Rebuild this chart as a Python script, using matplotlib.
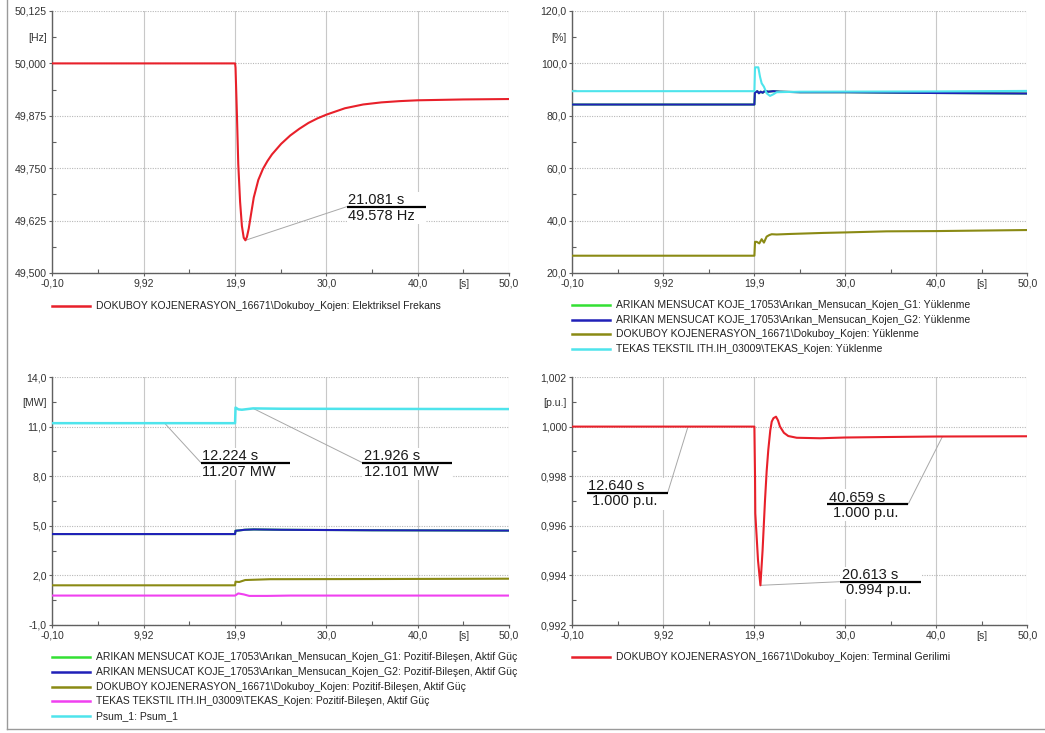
import matplotlib
matplotlib.use('Agg')
import matplotlib.pyplot as plt
from matplotlib.lines import Line2D
from matplotlib.patches import Rectangle
from matplotlib.ticker import FixedLocator, FixedFormatter

plt.rcParams['font.family'] = ['Liberation Sans', 'DejaVu Sans']

W, H = 1045, 733

# ---------------- data ----------------
x_ticks = [-0.1, 9.92, 19.94, 29.96, 39.98, 50.0]
x_ticklabels = ['-0,10', '9,92', '19,9', '30,0', '40,0', '50,0']
x_unit = '[s]'

# Electrical frequency [Hz]
freq_t = [-0.1, 19.95, 20.0, 20.15, 20.3, 20.5, 20.7, 20.9, 21.081, 21.25, 21.45, 21.7,
          22.0, 22.5, 23.0, 23.5, 24.0, 25.0, 26.0, 27.0, 28.0, 29.0, 30.0, 32.0, 34.0,
          36.0, 38.0, 40.0, 45.0, 50.0]
freq_v = [50.0, 50.0, 49.99, 49.88, 49.76, 49.67, 49.612, 49.584, 49.578, 49.586, 49.606, 49.64,
          49.68, 49.722, 49.748, 49.767, 49.783, 49.808, 49.828, 49.844, 49.858, 49.869, 49.878,
          49.893, 49.902, 49.907, 49.910, 49.912, 49.914, 49.915]
freq_yticks = [49.5, 49.625, 49.75, 49.875, 50.0, 50.125]
freq_ylabels = ['49,500', '49,625', '49,750', '49,875', '50,000', '50,125']
freq_unit = '[Hz]'

# Loading [%]
load_g2_t = [-0.1, 19.95, 20.0, 20.27, 20.45, 20.64, 20.86, 21.11, 21.48, 22.03, 22.76,
             25.0, 30.0, 40.0, 50.0]
load_g2_v = [84.3, 84.3, 88.8, 89.4, 88.6, 89.2, 88.8, 89.5, 89.2, 89.4, 89.2,
             89.0, 89.0, 88.7, 88.5]
load_g1_t = load_g2_t
load_g1_v = load_g2_v
load_dok_t = [-0.1, 19.95, 20.02, 20.2, 20.49, 20.75, 21.0, 21.3, 21.6, 21.86, 22.4,
              23.87, 27.54, 30.1, 34.5, 40.0, 50.0]
load_dok_v = [26.6, 26.6, 31.9, 31.9, 31.3, 32.9, 31.6, 33.9, 34.5, 34.8, 34.7,
              34.9, 35.3, 35.5, 35.9, 36.0, 36.4]
load_tek_t = [-0.1, 19.95, 20.02, 20.38, 20.57, 20.75, 21.0, 21.3, 21.67, 22.03, 22.4,
              25.0, 40.0, 50.0]
load_tek_v = [89.4, 89.4, 98.5, 98.5, 94.9, 92.4, 91.1, 88.6, 87.6, 88.2, 89.0,
              89.2, 89.3, 89.5]
load_yticks = [20.0, 40.0, 60.0, 80.0, 100.0, 120.0]
load_ylabels = ['20,0', '40,0', '60,0', '80,0', '100,0', '120,0']
load_unit = '[%]'

# Active power [MW]
pow_g2_t = [-0.1, 19.95, 20.0, 20.4, 21.0, 22.0, 25.0, 35.0, 50.0]
pow_g2_v = [4.50, 4.50, 4.70, 4.72, 4.76, 4.78, 4.76, 4.73, 4.71]
pow_g1_t = pow_g2_t
pow_g1_v = pow_g2_v
pow_dok_t = [-0.1, 19.95, 20.0, 20.4, 21.06, 23.8, 35.0, 50.0]
pow_dok_v = [1.40, 1.40, 1.62, 1.60, 1.72, 1.77, 1.78, 1.80]
pow_tek_t = [-0.1, 19.95, 20.3, 20.9, 21.5, 23.5, 26.0, 50.0]
pow_tek_v = [0.78, 0.78, 0.91, 0.85, 0.76, 0.76, 0.78, 0.78]
pow_sum_t = [-0.1, 19.95, 20.0, 20.32, 20.7, 21.926, 25.0, 35.0, 50.0]
pow_sum_v = [11.207, 11.207, 12.15, 12.04, 12.02, 12.101, 12.08, 12.07, 12.06]
pow_yticks = [-1.0, 2.0, 5.0, 8.0, 11.0, 14.0]
pow_ylabels = ['-1,0', '2,0', '5,0', '8,0', '11,0', '14,0']
pow_unit = '[MW]'

# Terminal voltage [p.u.]
volt_t = [-0.1, 19.95, 20.02, 20.05, 20.35, 20.613, 20.85, 21.12, 21.3, 21.48, 21.7, 21.86,
          22.05, 22.33, 22.55, 22.77, 23.2, 23.68, 24.61, 27.17, 29.92, 34.5, 40.0, 50.0]
volt_v = [1.0, 1.0, 0.9980, 0.9965, 0.99460, 0.99360, 0.99500, 0.99704, 0.99820, 0.99906,
          0.99985, 1.00020, 1.00034, 1.00040, 1.00025, 1.0000, 0.99975, 0.99962, 0.99955,
          0.99953, 0.99956, 0.99958, 0.99960, 0.99961]
volt_yticks = [0.992, 0.994, 0.996, 0.998, 1.000, 1.002]
volt_ylabels = ['0,992', '0,994', '0,996', '0,998', '1,000', '1,002']
volt_unit = '[p.u.]'

# callouts (time, value, line1, line2)
freq_callouts = [(21.081, 49.578, '21.081 s', '49.578 Hz')]
pow_callouts = [(12.224, 11.207, '12.224 s', '11.207 MW'),
                (21.926, 12.101, '21.926 s', '12.101 MW')]
volt_callouts = [(12.640, 1.000, '12.640 s', '1.000 p.u.'),
                 (40.659, 0.99960, '40.659 s', '1.000 p.u.'),
                 (20.613, 0.99360, '20.613 s', '0.994 p.u.')]

# legends
freq_legend = [r'DOKUBOY KOJENERASYON_16671\Dokuboy_Kojen: Elektriksel Frekans']
load_legend = [r'ARIKAN MENSUCAT KOJE_17053\Arıkan_Mensucan_Kojen_G1: Yüklenme',
               r'ARIKAN MENSUCAT KOJE_17053\Arıkan_Mensucan_Kojen_G2: Yüklenme',
               r'DOKUBOY KOJENERASYON_16671\Dokuboy_Kojen: Yüklenme',
               r'TEKAS TEKSTIL ITH.IH_03009\TEKAS_Kojen: Yüklenme']
pow_legend = [r'ARIKAN MENSUCAT KOJE_17053\Arıkan_Mensucan_Kojen_G1: Pozitif-Bileşen, Aktif Güç',
              r'ARIKAN MENSUCAT KOJE_17053\Arıkan_Mensucan_Kojen_G2: Pozitif-Bileşen, Aktif Güç',
              r'DOKUBOY KOJENERASYON_16671\Dokuboy_Kojen: Pozitif-Bileşen, Aktif Güç',
              r'TEKAS TEKSTIL ITH.IH_03009\TEKAS_Kojen: Pozitif-Bileşen, Aktif Güç',
              r'Psum_1: Psum_1']
volt_legend = [r'DOKUBOY KOJENERASYON_16671\Dokuboy_Kojen: Terminal Gerilimi']

RED = '#e8202a'
GREEN = '#33e033'
BLUE = '#2020b8'
OLIVE = '#8a8a14'
MAGENTA = '#f040f0'
CYAN = '#4ee4ec'

# ---------------- figure ----------------
fig = plt.figure(figsize=(W / 100, H / 100), dpi=100)
fig.patch.set_facecolor('white')


def px_rect(l, t, r, b):
    return [l / W, 1 - b / H, (r - l) / W, (b - t) / H]


ax_f = fig.add_axes(px_rect(52.3, 11, 509, 273))
ax_l = fig.add_axes(px_rect(572.3, 11, 1027.3, 273))
ax_p = fig.add_axes(px_rect(52.3, 377, 509, 625))
ax_v = fig.add_axes(px_rect(572.3, 377, 1027.3, 625))


def mids(v):
    return [(a + b) / 2 for a, b in zip(v[:-1], v[1:])]


def style(ax, yticks, ylabels, unit):
    ax.set_xlim(x_ticks[0], x_ticks[-1])
    ax.set_ylim(yticks[0], yticks[-1])
    ax.xaxis.set_major_locator(FixedLocator(x_ticks))
    ax.xaxis.set_major_formatter(FixedFormatter(x_ticklabels))
    ax.xaxis.set_minor_locator(FixedLocator(mids(x_ticks)))
    ax.xaxis.set_minor_formatter(FixedFormatter([''] * 4 + [x_unit]))
    ax.yaxis.set_major_locator(FixedLocator(yticks))
    ax.yaxis.set_major_formatter(FixedFormatter(ylabels))
    ax.yaxis.set_minor_locator(FixedLocator(mids(yticks)))
    ax.yaxis.set_minor_formatter(FixedFormatter([''] * 4 + [unit]))
    for s in ('top', 'right'):
        ax.spines[s].set_visible(False)
    for s in ('left', 'bottom'):
        ax.spines[s].set_color('#606060')
        ax.spines[s].set_linewidth(1.0)
    ax.tick_params(which='major', length=2.5, width=0.8, color='#606060',
                   labelsize=7.6, labelcolor='#333333', pad=1.5)
    ax.tick_params(which='minor', length=3, width=0.8, color='#606060', direction='in',
                   labelsize=7.6, labelcolor='#333333', pad=4.0)
    ax.grid(which='major', axis='x', color='#c8c8c8', lw=0.8, ls='-')
    ax.grid(which='major', axis='y', color='#b8b8b8', lw=0.8, ls=(0, (1, 1.2)))
    ax.set_axisbelow(True)


def callout(ax, xp, yp, t1, t2, bx, by, bw, end, dx2=0.0):
    pos = ax.get_position()
    axw, axh = pos.width * W, pos.height * H
    up, down = 15 / axh, 17 / axh
    ax.add_patch(Rectangle((bx, by - down), bw, up + down, transform=ax.transAxes,
                           fc='white', ec='none', zorder=3))
    ex = bx if end == 'left' else bx + bw
    ax.annotate('', xy=(xp, yp), xycoords='data', xytext=(ex, by), textcoords='axes fraction',
                arrowprops=dict(arrowstyle='-', color='#a8a8a8', lw=0.7, shrinkA=0, shrinkB=0),
                zorder=3.5)
    ax.plot([bx, bx + bw], [by, by], transform=ax.transAxes, color='black', lw=1.6,
            solid_capstyle='butt', zorder=5, clip_on=False)
    ax.text(bx + 1.5 / axw, by + 2.5 / axh, t1, transform=ax.transAxes, fontsize=10.5,
            va='baseline', ha='left', color='#1a1a1a', zorder=6)
    ax.text(bx + (1.5 + dx2) / axw, by - 12.8 / axh, t2, transform=ax.transAxes, fontsize=10.5,
            va='baseline', ha='left', color='#1a1a1a', zorder=6)


# --- frequency
style(ax_f, freq_yticks, freq_ylabels, freq_unit)
ax_f.plot(freq_t, freq_v, color=RED, lw=1.5, zorder=4)
c = freq_callouts[0]
callout(ax_f, c[0], c[1], c[2], c[3], 0.6445, 0.253, 0.1729, 'left')

# --- loading
style(ax_l, load_yticks, load_ylabels, load_unit)
ax_l.plot(load_g1_t, load_g1_v, color=GREEN, lw=1.5, zorder=4)
ax_l.plot(load_dok_t, load_dok_v, color=OLIVE, lw=1.5, zorder=4)
ax_l.plot(load_g2_t, load_g2_v, color=BLUE, lw=1.5, zorder=4)
ax_l.plot(load_tek_t, load_tek_v, color=CYAN, lw=1.5, zorder=4)

# --- power
style(ax_p, pow_yticks, pow_ylabels, pow_unit)
ax_p.plot(pow_g1_t, pow_g1_v, color=GREEN, lw=1.5, zorder=4)
ax_p.plot(pow_g2_t, pow_g2_v, color=BLUE, lw=1.5, zorder=4)
ax_p.plot(pow_dok_t, pow_dok_v, color=OLIVE, lw=1.5, zorder=4)
ax_p.plot(pow_tek_t, pow_tek_v, color=MAGENTA, lw=1.5, zorder=4)
ax_p.plot(pow_sum_t, pow_sum_v, color=CYAN, lw=1.8, zorder=4)
c = pow_callouts[0]
callout(ax_p, c[0], c[1], c[2], c[3], 0.3254, 0.6544, 0.1954, 'left')
c = pow_callouts[1]
callout(ax_p, c[0], c[1], c[2], c[3], 0.679, 0.6544, 0.1956, 'left')

# --- voltage
style(ax_v, volt_yticks, volt_ylabels, volt_unit)
ax_v.plot(volt_t, volt_v, color=RED, lw=1.5, zorder=4)
c = volt_callouts[0]
callout(ax_v, c[0], c[1], c[2], c[3], 0.0316, 0.5335, 0.178, 'right', dx2=3.5)
c = volt_callouts[1]
callout(ax_v, c[0], c[1], c[2], c[3], 0.5604, 0.4879, 0.178, 'right', dx2=4.5)
c = volt_callouts[2]
callout(ax_v, c[0], c[1], c[2], c[3], 0.5884, 0.1746, 0.178, 'left', dx2=4.0)


# ---------------- legends ----------------
def legend_rows(x0, y0, dy, labels, colors):
    for i, (lab, col) in enumerate(zip(labels, colors)):
        y = 1 - (y0 + i * dy) / H
        fig.add_artist(Line2D([x0 / W, (x0 + 37.5) / W], [y, y], color=col, lw=1.8))
        fig.text((x0 + 44.5) / W, y, lab, fontsize=7.5, va='center', ha='left', color='#222222')


legend_rows(52, 306, 14.6, freq_legend, [RED])
legend_rows(572, 305.3, 14.6, load_legend, [GREEN, BLUE, OLIVE, CYAN])
legend_rows(52, 657.3, 14.6, pow_legend, [GREEN, BLUE, OLIVE, MAGENTA, CYAN])
legend_rows(572, 657.3, 14.6, volt_legend, [RED])

# outer frame lines
fig.add_artist(Line2D([6.5 / W, 6.5 / W], [1 - 729 / H, 1.0], color='#9a9a9a', lw=1.0))
fig.add_artist(Line2D([6.5 / W, 1.0], [1 - 729 / H, 1 - 729 / H], color='#9a9a9a', lw=1.0))

fig.savefig('out.png', dpi=100, facecolor='white')
